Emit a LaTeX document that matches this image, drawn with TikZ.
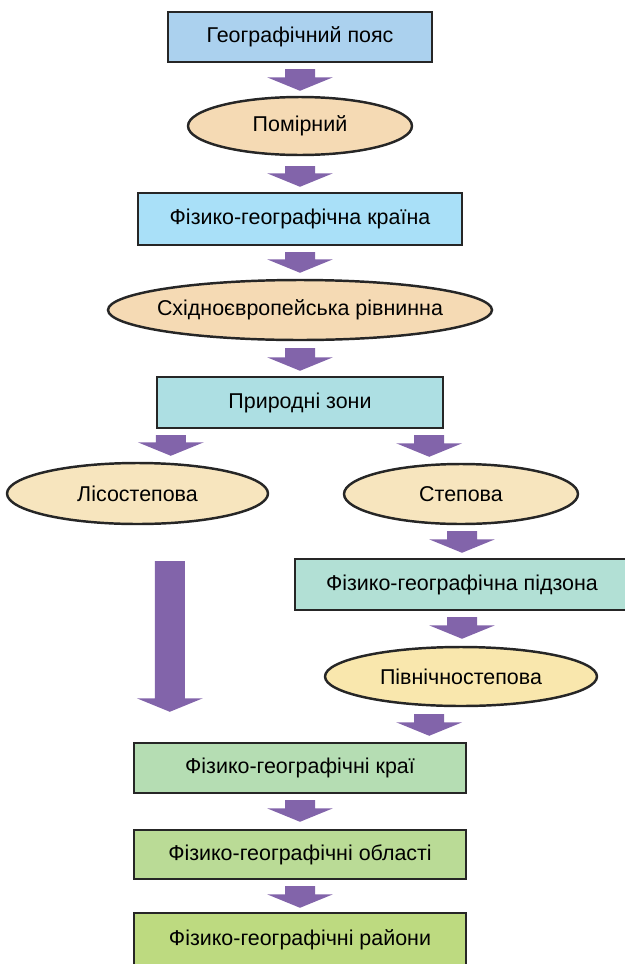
\documentclass[tikz,border=0pt]{standalone}
\usepackage{fontspec}
\setmainfont{Liberation Sans}
\usetikzlibrary{shapes.geometric,calc}

\definecolor{arrowviolet}{HTML}{8264AA}
\definecolor{beltblue}{HTML}{ABD1EE}
\definecolor{countryblue}{HTML}{A9E0F8}
\definecolor{zonecyan}{HTML}{ADDFE3}
\definecolor{subzonecyan}{HTML}{B2E0D5}
\definecolor{peach}{HTML}{F5DAB4}
\definecolor{cream}{HTML}{F7E5BE}
\definecolor{paleyellow}{HTML}{F9E7AD}
\definecolor{landgreen}{HTML}{B5DDB3}
\definecolor{areagreen}{HTML}{BADB96}
\definecolor{districtgreen}{HTML}{BDDA80}

\tikzset{
  box/.style={draw=black!85,line width=1.4pt,rectangle,inner sep=0pt,
    font=\fontsize{12.2}{14}\selectfont},
  oval/.style={draw=black!85,line width=1.4pt,ellipse,inner sep=0pt,
    font=\fontsize{12.2}{14}\selectfont}
}

\newcommand\flowarrow[2]{
  \fill[arrowviolet] let \p1=(#1), \p2=(#2) in
    (\x1-0.3cm,\y1) -- (\x1+0.3cm,\y1) -- (\x1+0.3cm,\y2+0.27cm)
    -- (\x1+0.66cm,\y2+0.27cm) -- (\x1,\y2) -- (\x1-0.66cm,\y2+0.27cm)
    -- (\x1-0.3cm,\y2+0.27cm) -- cycle;
}

\begin{document}
\begin{tikzpicture}[x=0.02cm,y=-0.02cm]
\clip (0,0) rectangle (625,964);
\node [box,fill=beltblue,minimum width=5.28cm,minimum height=1cm] (belt) at (300,37) {Географічний пояс};
\node [oval,fill=peach,minimum width=4.48cm,minimum height=1.16cm] (temperate) at (300,126) {Помірний};
\node [box,fill=countryblue,minimum width=6.48cm,minimum height=1.04cm] (country) at (300,219) {Фізико-географічна країна};
\node [oval,fill=peach,inner xsep=-0.3cm,minimum width=7.68cm,minimum height=1.2cm] (plain) at (300,310) {Східноєвропейська рівнинна};
\node [box,fill=zonecyan,minimum width=5.72cm,minimum height=1.02cm] (zones) at (300,402.5) {Природні зони};
\node [oval,fill=cream,minimum width=5.22cm,minimum height=1.22cm] (forest) at (137.5,493.5) {Лісостепова};
\node [oval,fill=cream,minimum width=4.68cm,minimum height=1.2cm] (steppe) at (461,494) {Степова};
\node [box,fill=subzonecyan,minimum width=6.68cm,minimum height=1.02cm] (subzone) at (462,584.5) {Фізико-географічна підзона};
\node [oval,fill=paleyellow,minimum width=5.44cm,minimum height=1.18cm] (northsteppe) at (461,676.5) {Північностепова};
\node [box,fill=landgreen,minimum width=6.64cm,minimum height=1cm] (lands) at (300,768) {Фізико-географічні краї};
\node [box,fill=areagreen,minimum width=6.64cm,minimum height=0.98cm] (areas) at (300,854.5) {Фізико-географічні області};
\node [box,fill=districtgreen,minimum width=6.64cm,minimum height=1.06cm] (districts) at (300,939.5) {Фізико-географічні райони};

\flowarrow{$(belt.south)+(0,6)$}{$(temperate.north)+(0,-5)$}
\flowarrow{$(temperate.south)+(0,10)$}{$(country.north)+(0,-5)$}
\flowarrow{$(country.south)+(0,6)$}{$(plain.north)+(0,-6)$}
\flowarrow{$(plain.south)+(0,7)$}{$(zones.north)+(0,-5)$}
\flowarrow{$(zones.south west)+(15,6)$}{$(zones.south west |- forest.north)+(15,-6)$}
\flowarrow{$(zones.south east)+(-15,6)$}{$(zones.south east |- steppe.north)+(-15,-6)$}
\flowarrow{$(steppe.south -| subzone.north)+(0,6)$}{$(subzone.north)+(0,-5)$}
\flowarrow{$(subzone.south)+(0,6)$}{$(subzone.south |- northsteppe.north)+(0,-7)$}
\flowarrow{$(northsteppe.south -| lands.north east)+(-38,7)$}{$(lands.north east)+(-38,-6)$}
\flowarrow{$(forest.south -| lands.north west)+(37,36)$}{$(lands.north west)+(37,-30)$}
\flowarrow{$(lands.south)+(0,6)$}{$(areas.north)+(0,-7)$}
\flowarrow{$(areas.south)+(0,6)$}{$(districts.north)+(0,-4)$}
\end{tikzpicture}
\end{document}
